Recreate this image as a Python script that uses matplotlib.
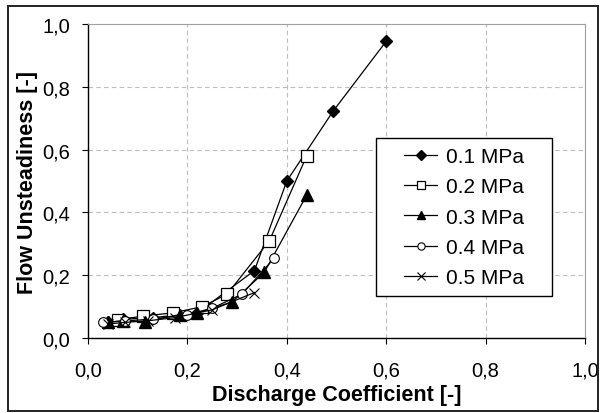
import matplotlib
matplotlib.use("Agg")
import matplotlib.pyplot as plt
from matplotlib.patches import Rectangle

plt.rcParams['font.family'] = ['Liberation Sans', 'DejaVu Sans']

labels = ["0.1 MPa", "0.2 MPa", "0.3 MPa", "0.4 MPa", "0.5 MPa"]

x_01 = [0.04, 0.07, 0.13, 0.22, 0.335, 0.40, 0.493, 0.60]
y_01 = [0.05, 0.06, 0.065, 0.08, 0.215, 0.50, 0.722, 0.945]

x_02 = [0.06, 0.11, 0.17, 0.23, 0.28, 0.365, 0.44]
y_02 = [0.058, 0.07, 0.08, 0.10, 0.14, 0.31, 0.58]

x_03 = [0.04, 0.07, 0.115, 0.185, 0.22, 0.29, 0.355, 0.44]
y_03 = [0.05, 0.055, 0.052, 0.075, 0.08, 0.115, 0.21, 0.455]

x_04 = [0.03, 0.075, 0.13, 0.20, 0.25, 0.31, 0.375]
y_04 = [0.05, 0.055, 0.06, 0.075, 0.095, 0.14, 0.255]

x_05 = [0.04, 0.075, 0.12, 0.175, 0.25, 0.335]
y_05 = [0.045, 0.05, 0.055, 0.065, 0.09, 0.145]

xticks = [0.0, 0.2, 0.4, 0.6, 0.8, 1.0]
yticks = [0.0, 0.2, 0.4, 0.6, 0.8, 1.0]
tick_labels = ["0,0", "0,2", "0,4", "0,6", "0,8", "1,0"]

fig = plt.figure(figsize=(6.03, 4.14), dpi=100)
ax = fig.add_axes([0.146, 0.181, 0.824, 0.7585])

lw = 0.9
ax.plot(x_01, y_01, color='black', lw=lw, marker='D', ms=6.5, mfc='black', mec='black', label=labels[0])
ax.plot(x_02, y_02, color='black', lw=lw, marker='s', ms=8, mfc='white', mec='black', mew=0.9, label=labels[1])
ax.plot(x_03, y_03, color='black', lw=lw, marker='^', ms=8.5, mfc='black', mec='black', label=labels[2])
ax.plot(x_04, y_04, color='black', lw=lw, marker='o', ms=7, mfc='white', mec='black', mew=0.8, label=labels[3])
ax.plot(x_05, y_05, color='black', lw=lw, marker='x', ms=7.5, mec='black', mew=0.8, label=labels[4])

ax.set_xlim(0, 1.0)
ax.set_ylim(0, 1.0)
ax.set_xticks(xticks)
ax.set_yticks(yticks)
ax.set_xticklabels(tick_labels, fontsize=14.5)
ax.set_yticklabels(tick_labels, fontsize=14.5)
ax.tick_params(direction='out', length=4.3, width=0.8, color='black')
ax.tick_params(axis='x', pad=12)
ax.tick_params(axis='y', pad=8.4)

ax.grid(True, color='#bdbdbd', linestyle=(0, (4, 3)), linewidth=0.8)
ax.set_axisbelow(True)
for s in ['top', 'right']:
    ax.spines[s].set_color('#a0a0a0')
    ax.spines[s].set_linewidth(0.8)
for s in ['left', 'bottom']:
    ax.spines[s].set_color('black')
    ax.spines[s].set_linewidth(1.0)

ax.set_xlabel("Discharge Coefficient [-]", fontsize=15.5, fontweight='bold', labelpad=3)
ax.set_ylabel("Flow Unsteadiness [-]", fontsize=15.5, fontweight='bold', labelpad=3.6)

# legend frame
ax.add_patch(Rectangle((0.5795, 0.134), 0.354, 0.503, transform=ax.transAxes,
                       fill=True, facecolor='white', edgecolor='black', linewidth=1.0, zorder=4))
leg = ax.legend(loc='center', bbox_to_anchor=(0.7565, 0.385),
                fontsize=15, frameon=False, markerscale=0.75,
                handlelength=1.6, handletextpad=0.4, borderaxespad=0, labelspacing=0.54,
                borderpad=0)
leg.set_zorder(5)

fig.patches.append(Rectangle((8 / 603, 2 / 414), 590 / 603, 405 / 414, transform=fig.transFigure,
                             fill=False, edgecolor='#222222', linewidth=1.4))

fig.savefig("out.png", dpi=100)
